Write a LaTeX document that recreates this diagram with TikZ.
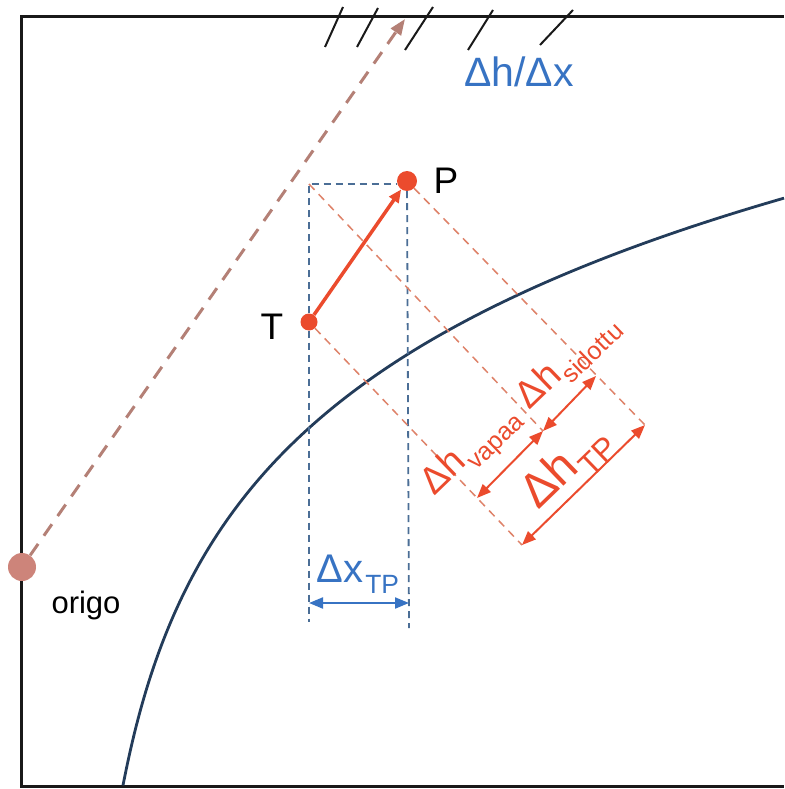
\documentclass[tikz,border=0pt]{standalone}
\usepackage{fontspec}
\setmainfont{Liberation Sans}
\usetikzlibrary{arrows.meta}
\definecolor{frameblack}{RGB}{25,25,25}
\definecolor{curveblue}{RGB}{35,60,90}
\definecolor{lblblue}{RGB}{55,115,195}
\definecolor{rectblue}{RGB}{75,110,150}
\definecolor{dimred}{RGB}{235,75,45}
\definecolor{guideor}{RGB}{222,130,105}
\definecolor{brownarrow}{RGB}{180,128,118}
\definecolor{origofill}{RGB}{205,132,122}
\newcommand\fsz[1]{\fontsize{#1}{#1}\selectfont}
\newcommand\subtxt[1]{\kern0.04em\raisebox{-0.28em}{\scalebox{0.66}{#1}}}
\begin{document}
\begin{tikzpicture}[x=1pt,y=-1pt,
  dot/.style={circle,inner sep=0pt,draw=none},
  framestyle/.style={line width=3pt,draw=frameblack},
  curvestyle/.style={line width=2.8pt,draw=curveblue},
  rectdash/.style={line width=1.8pt,draw=rectblue,dash pattern=on 7pt off 5pt},
  guidedash/.style={line width=1.5pt,draw=guideor,dash pattern=on 8pt off 6pt},
  browndash/.style={line width=3pt,draw=brownarrow,dash pattern=on 14pt off 10pt,-{Triangle[length=16pt,width=12pt]}},
  dimarrow/.style={line width=2pt,draw=dimred,{Triangle[length=14pt,width=11pt]}-{Triangle[length=14pt,width=11pt]}},
  bluearrow/.style={line width=2pt,draw=lblblue,{Triangle[length=14pt,width=11pt]}-{Triangle[length=14pt,width=11pt]}},
  hatch/.style={line width=2pt,draw=frameblack},
  dimlbl/.style={text=dimred,inner sep=0pt,rotate=44},
  blacklbl/.style={text=black,inner sep=0pt}]
\useasboundingbox (0,0) rectangle (784,789);
% frame
\draw[framestyle] (784,17) -- (21,17) -- (21,786) -- (784,786);
% hatch marks
\draw[hatch] (325,47) -- (343,7);
\draw[hatch] (357,47) -- (378,8);
\draw[hatch] (405,50) -- (433,7);
\draw[hatch] (468,50) -- (493,10);
\draw[hatch] (540,45) -- (573,10);
% curve
\draw[curvestyle] plot[domain=123:784,samples=220,smooth] (\x,{428-202*ln((\x-85)/224)});
% nodes
\node[dot,fill=origofill,minimum size=28pt] (O) at (22,567) {};
\node[dot,fill=dimred,minimum size=17pt] (T) at (309,322) {};
\node[dot,fill=dimred,minimum size=20pt] (P) at (407,181) {};
% coordinates
\coordinate (Atip) at (405,19);
\coordinate (C) at (309,184);
\coordinate (RL) at (309,622);
\coordinate (RR) at (409,628);
\coordinate (A1) at (543,431);
\coordinate (B1) at (645,425);
\coordinate (C1) at (522,545);
\coordinate (V0) at (477,498);
\coordinate (S1) at (596,376);
\coordinate (X0) at (309,603);
\coordinate (X1) at (409,603);
% brown dashed arrow
\draw[browndash] (O) -- (Atip);
% blue dashed rectangle
\draw[rectdash] (T) -- (C) -- (C -| P.west);
\draw[rectdash] (T) -- (RL);
\draw[rectdash] (P) -- (RR);
% orange guide lines
\draw[guidedash] (C) -- (A1);
\draw[guidedash] (P) -- (B1);
\draw[guidedash] (T) -- (C1);
% T -> P
\draw[line width=3.5pt,draw=dimred,-{Triangle[length=13pt,width=11pt]}] (T) -- (P);
% dimension arrows
\draw[dimarrow] (V0) -- (A1);
\draw[dimarrow] (A1) -- (S1);
\draw[dimarrow] (C1) -- (B1);
\draw[bluearrow] (X0) -- (X1);
% labels
\node[blacklbl,font=\fsz{37}] (Tl) at (272,327) {T};
\node[blacklbl,font=\fsz{37}] (Pl) at (446,181) {P};
\node[blacklbl,font=\fsz{31}] (Ol) at (86,605) {origo};
\node[text=lblblue,inner sep=0pt,font=\fsz{41}] (HX) at (519,72) {Δh/Δx};
\node[text=lblblue,inner sep=0pt,font=\fsz{40}] (XL) at (358,574) {Δx\subtxt{TP}};
\node[dimlbl,font=\fsz{38}] (Lv) at (472,452) {Δh\subtxt{vapaa}};
\node[dimlbl,font=\fsz{38}] (Ls) at (568,362) {Δh\subtxt{sidottu}};
\node[dimlbl,font=\fsz{48}] (Lt) at (567,468) {Δh\subtxt{TP}};
\end{tikzpicture}
\end{document}
